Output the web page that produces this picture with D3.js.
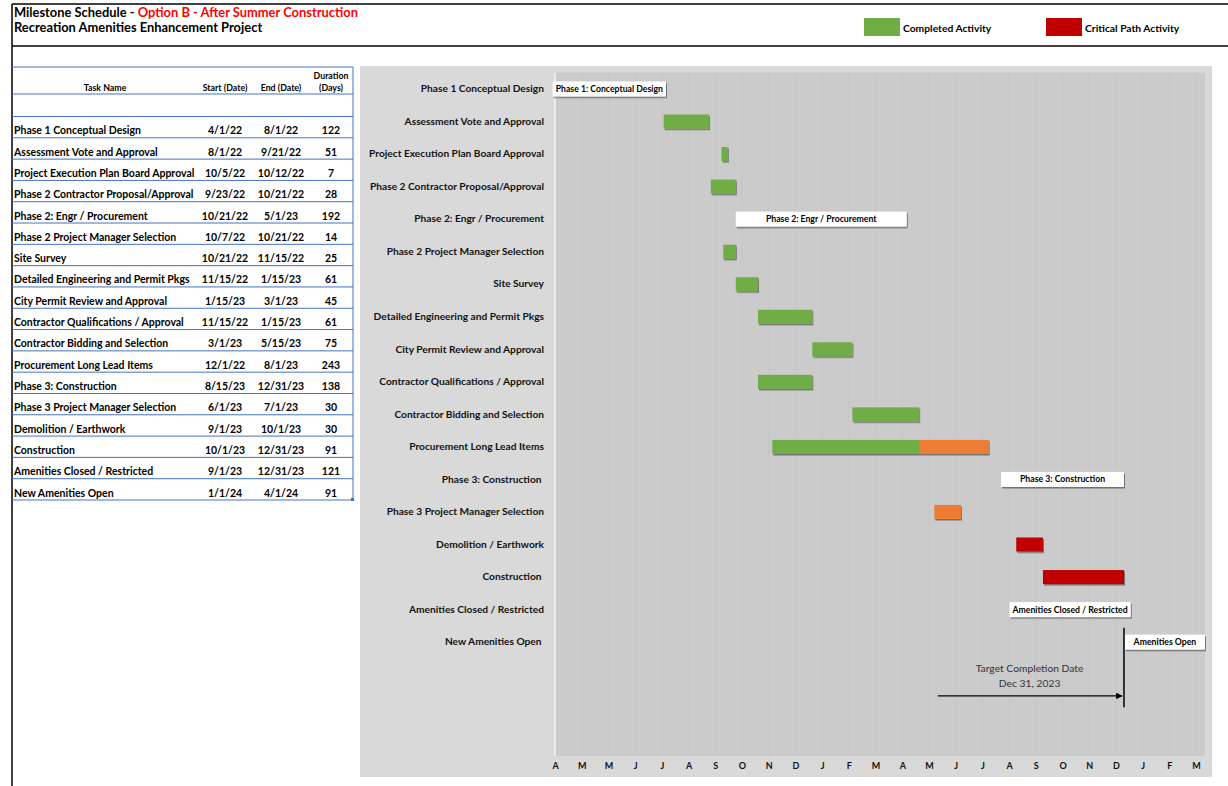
<!DOCTYPE html>
<html lang="en">
<head>
<meta charset="UTF-8">
<title>Milestone Schedule - Option B</title>
<script src="https://d3js.org/d3.v7.min.js"></script>
<style>
  body { margin: 0; background: #fff; }
  svg text { font-family: Lato, "Open Sans", sans-serif; font-weight: bold; fill: #000; }
</style>
</head>
<body>
<svg width="1228" height="786"></svg>
<script>
// table / chart data
const taskNames = [
  "Phase 1 Conceptual Design", "Assessment Vote and Approval", "Project Execution Plan Board Approval",
  "Phase 2 Contractor Proposal/Approval", "Phase 2: Engr / Procurement", "Phase 2 Project Manager Selection",
  "Site Survey", "Detailed Engineering and Permit Pkgs", "City Permit Review and Approval",
  "Contractor Qualifications / Approval", "Contractor Bidding and Selection", "Procurement Long Lead Items",
  "Phase 3: Construction", "Phase 3 Project Manager Selection", "Demolition / Earthwork",
  "Construction", "Amenities Closed / Restricted", "New Amenities Open"
];
const startDates = ["4/1/22", "8/1/22", "10/5/22", "9/23/22", "10/21/22", "10/7/22", "10/21/22", "11/15/22", "1/15/23",
  "11/15/22", "3/1/23", "12/1/22", "8/15/23", "6/1/23", "9/1/23", "10/1/23", "9/1/23", "1/1/24"];
const endDates = ["8/1/22", "9/21/22", "10/12/22", "10/21/22", "5/1/23", "10/21/22", "11/15/22", "1/15/23", "3/1/23",
  "1/15/23", "5/15/23", "8/1/23", "12/31/23", "7/1/23", "10/1/23", "12/31/23", "12/31/23", "4/1/24"];
const durations = [122, 51, 7, 28, 192, 14, 25, 61, 45, 61, 75, 243, 138, 30, 30, 91, 121, 91];

// how each bar is drawn: label = white box, done = green, pending = orange, critical = red, split = green then orange
const barStatus = ["label", "done", "done", "done", "label", "done", "done", "done", "done",
  "done", "done", "split", "label", "pending", "critical", "critical", "label", "label"];
const barText = ["Phase 1: Conceptual Design", null, null, null, "Phase 2: Engr / Procurement", null, null, null, null,
  null, null, null, "Phase 3: Construction", null, null, null, "Amenities Closed / Restricted", "Amenities Open"];
const completedUntil = [null, null, null, null, null, null, null, null, null, null, null, "5/15/23",
  null, null, null, null, null, null];
const chartLabels = taskNames.map(d => (d === "Phase 3: Construction" || d === "Construction" || d === "New Amenities Open") ? d + " " : d);

const tickLabels = ["A", "M", "M", "J", "J", "A", "S", "O", "N", "D", "J", "F", "M", "A", "M", "J", "J", "A", "S", "O", "N", "D", "J", "F", "M"];
const axisStart = "4/1/22";
const axisEnd = "3/31/24";
const targetDate = "12/31/23";

const parse = d3.timeParse("%m/%d/%y");
const colors = { done: "#70ad47", pending: "#ed7d31", critical: "#c00000" };

const svg = d3.select("svg");

// drop shadow used on bars
const defs = svg.append("defs");
defs.append("filter").attr("id", "shadow").attr("x", "-5%").attr("y", "-20%").attr("width", "115%").attr("height", "160%")
  .append("feDropShadow").attr("dx", 1).attr("dy", 1.5).attr("stdDeviation", 0.7)
  .attr("flood-color", "#000").attr("flood-opacity", 0.45);
defs.append("marker").attr("id", "arrow").attr("viewBox", "0 0 10 10").attr("refX", 9).attr("refY", 5)
  .attr("markerWidth", 5).attr("markerHeight", 5).attr("orient", "auto")
  .append("path").attr("d", "M0,0L10,5L0,10z").attr("fill", "#000");

// header frame
svg.append("line").attr("x1", 12).attr("x2", 1228).attr("y1", 4).attr("y2", 4).attr("stroke", "#000").attr("stroke-width", 1.5);
svg.append("line").attr("x1", 12).attr("x2", 1228).attr("y1", 46).attr("y2", 46).attr("stroke", "#000").attr("stroke-width", 1.5);
svg.append("line").attr("x1", 12).attr("x2", 12).attr("y1", 4).attr("y2", 786).attr("stroke", "#000").attr("stroke-width", 1.5);

const title = svg.append("text").attr("x", 14).attr("y", 17).style("font-size", "12.9px");
title.append("tspan").text("Milestone Schedule - ");
title.append("tspan").style("fill", "#ff0000").text("Option B - After Summer Construction");
svg.append("text").attr("x", 14).attr("y", 32).style("font-size", "12.9px").text("Recreation Amenities Enhancement Project");

// legend
const legend = [{ label: "Completed Activity", color: colors.done, x: 864 }, { label: "Critical Path Activity", color: colors.critical, x: 1046 }];
legend.forEach(l => {
  svg.append("rect").attr("x", l.x).attr("y", 18).attr("width", 36).attr("height", 18).attr("fill", l.color);
  svg.append("text").attr("x", l.x + 39).attr("y", 31.5).style("font-size", "10.3px").text(l.label);
});

// ---------- table ----------
const tableRow = d3.scaleBand().domain(d3.range(taskNames.length)).range([116.5, 500]);
const tableBlue = "#4472c4";
const colX = { start: 225, end: 281, dur: 331 };

[67, 94, 116.5].concat(taskNames.map((d, i) => tableRow(i) + tableRow.bandwidth())).forEach(y => {
  svg.append("line").attr("x1", 12).attr("x2", 353).attr("y1", y).attr("y2", y).attr("stroke", tableBlue).attr("stroke-width", 1);
});
svg.append("line").attr("x1", 353).attr("x2", 353).attr("y1", 67).attr("y2", 500).attr("stroke", tableBlue).attr("stroke-width", 1);
svg.append("rect").attr("x", 351).attr("y", 498).attr("width", 3).attr("height", 3).attr("fill", tableBlue);

const head = svg.append("g").style("font-size", "8.8px");
head.append("text").attr("x", 105).attr("y", 91).attr("text-anchor", "middle").text("Task Name");
head.append("text").attr("x", colX.start).attr("y", 91).attr("text-anchor", "middle").text("Start  (Date)");
head.append("text").attr("x", colX.end).attr("y", 91).attr("text-anchor", "middle").text("End  (Date)");
head.append("text").attr("x", colX.dur).attr("y", 79).attr("text-anchor", "middle").text("Duration");
head.append("text").attr("x", colX.dur).attr("y", 91).attr("text-anchor", "middle").text("(Days)");

const rows = svg.append("g").selectAll("g").data(taskNames).join("g")
  .attr("transform", (d, i) => `translate(0,${tableRow(i) + tableRow.bandwidth() - 3.5})`)
  .style("font-size", "10.5px");
rows.append("text").attr("x", 14).text(d => d);
rows.append("text").attr("x", colX.start).attr("text-anchor", "middle").text((d, i) => startDates[i]);
rows.append("text").attr("x", colX.end).attr("text-anchor", "middle").text((d, i) => endDates[i]);
rows.append("text").attr("x", colX.dur).attr("text-anchor", "middle").text((d, i) => durations[i]);

// ---------- gantt ----------
const plot = { left: 555, right: 1205, top: 72.7, bottom: 756 };
svg.append("rect").attr("x", 360).attr("y", 66).attr("width", 852).attr("height", 711).attr("fill", "#d9d9d9");
svg.append("rect").attr("x", plot.left).attr("y", plot.top).attr("width", plot.right - plot.left)
  .attr("height", plot.bottom - plot.top).attr("fill", "#cbcbcb");

const x = d3.scaleTime().domain([parse(axisStart), parse(axisEnd)]).range([plot.left, plot.right]).clamp(true);
const rowCount = taskNames.length + 3;
const y = d3.scaleBand().domain(d3.range(rowCount)).range([plot.top, plot.bottom]);
const barH = 14;

const tickDates = tickLabels.map((d, i) => d3.timeDay.offset(parse(axisStart), i * 30));

svg.append("g").selectAll("line").data(tickDates.slice(1)).join("line")
  .attr("x1", d => x(d)).attr("x2", d => x(d)).attr("y1", plot.top).attr("y2", plot.bottom)
  .attr("stroke", "#c6c6c6").attr("stroke-width", 1);
svg.append("line").attr("x1", plot.left).attr("x2", plot.left).attr("y1", plot.top).attr("y2", plot.bottom)
  .attr("stroke", "#ececec").attr("stroke-width", 2);

const xAxis = svg.append("g").attr("transform", `translate(0,${plot.bottom})`)
  .call(d3.axisBottom(x).tickValues(tickDates).tickFormat((d, i) => tickLabels[i]).tickSize(0).tickPadding(7));
xAxis.select(".domain").remove();
xAxis.selectAll("text").style("font-size", "9px").style("font-family", "Lato, sans-serif")
  .style("font-weight", "bold").style("fill", "#111");

const yAxis = svg.append("g").attr("transform", `translate(${plot.left},0)`)
  .call(d3.axisLeft(y).tickFormat(i => chartLabels[i] || "").tickSize(0).tickPadding(11));
yAxis.select(".domain").remove();
yAxis.selectAll("text").style("font-size", "10.2px").style("font-family", "Lato, sans-serif")
  .style("font-weight", "bold").style("white-space", "pre").style("fill", "#111");

// bars
const bars = svg.append("g");
taskNames.forEach((name, i) => {
  const s = parse(startDates[i]), e = parse(endDates[i]);
  const yc = y(i) + y.bandwidth() / 2;
  const status = barStatus[i];
  if (status === "label") return;
  const segs = status === "split"
    ? [[s, parse(completedUntil[i]), colors.done], [parse(completedUntil[i]), e, colors.pending]]
    : [[s, e, colors[status]]];
  const g = bars.append("g").attr("filter", "url(#shadow)");
  segs.forEach(([a, b, c]) => {
    g.append("rect").attr("x", x(a)).attr("y", yc - barH / 2).attr("width", x(b) - x(a)).attr("height", barH).attr("fill", c);
  });
});

// labelled summary bars (white boxes)
taskNames.forEach((name, i) => {
  if (barStatus[i] !== "label") return;
  const s = parse(startDates[i]), e = parse(endDates[i]);
  const yc = y(i) + y.bandwidth() / 2;
  const g = svg.append("g");
  const box = g.append("rect").attr("fill", "#fff").attr("filter", "url(#shadow)");
  const t = g.append("text").attr("y", yc).attr("dy", "0.35em").attr("text-anchor", "middle")
    .style("font-size", "8.7px").text(barText[i]);
  const cx = (x(s) + x(e)) / 2;
  t.attr("x", cx);
  const tw = t.node().getComputedTextLength() + 6;
  const w = Math.max(x(e) - x(s), tw);
  box.attr("x", cx - w / 2).attr("y", yc - 7.5).attr("width", w).attr("height", 15);
});

// target completion annotation
const tx = x(parse(targetDate));
svg.append("line").attr("x1", tx).attr("x2", tx).attr("y1", y(17) + 2).attr("y2", y(19) + y.bandwidth() / 2)
  .attr("stroke", "#000").attr("stroke-width", 1.5);
const arrowY = y(19) + 5;
svg.append("line").attr("x1", x(parse("6/5/23"))).attr("x2", tx - 2).attr("y1", arrowY).attr("y2", arrowY)
  .attr("stroke", "#000").attr("stroke-width", 1.3).attr("marker-end", "url(#arrow)");
const noteX = x(parse("9/16/23"));
const note = svg.append("text").attr("text-anchor", "middle")
  .style("font-size", "10.3px").style("font-weight", "normal").style("fill", "#333");
note.append("tspan").attr("x", noteX).attr("y", y(18) + 14).text("Target Completion Date");
note.append("tspan").attr("x", noteX).attr("y", y(18) + 29).text("Dec 31, 2023");
</script>
</body>
</html>
